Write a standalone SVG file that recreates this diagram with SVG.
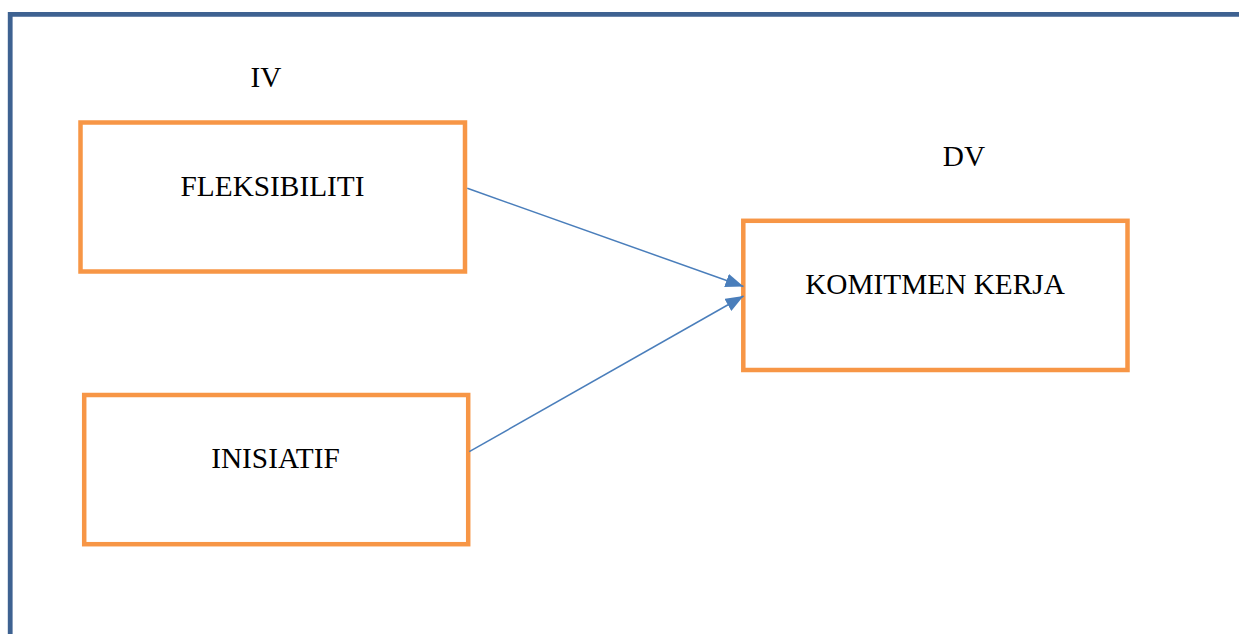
<svg xmlns="http://www.w3.org/2000/svg" width="1239" height="634" viewBox="0 0 1239 634">
<style>
.box{fill:#ffffff;stroke:#f79646;stroke-width:4.5}
.lbl{font-family:"Liberation Serif","Times New Roman",serif;font-size:29.3px;fill:#000000;text-anchor:middle}
.conn{stroke:#4a7ebb;stroke-width:1.5;fill:none}
</style>
<defs>
<marker id="arr" markerUnits="userSpaceOnUse" markerWidth="18" markerHeight="14" refX="18" refY="7" orient="auto">
<path d="M0,0 L18,7 L0,14 Z" fill="#4a7ebb"/>
</marker>
</defs>
<rect x="0" y="0" width="1239" height="634" fill="#ffffff"/>
<g id="frame">
<path d="M10.2,634 L10.2,14.3 L1239,14.3" fill="none" stroke="#3e6291" stroke-width="4.8"/>
</g>
<text class="lbl" x="266" y="86.5">IV</text>
<text class="lbl" x="964" y="166">DV</text>
<g id="fleksibiliti">
<rect class="box" x="80.5" y="122.5" width="384.5" height="149"/>
<text class="lbl" x="272.5" y="196">FLEKSIBILITI</text>
</g>
<g id="inisiatif">
<rect class="box" x="84.2" y="395" width="384" height="149.2"/>
<text class="lbl" x="275.5" y="468.3">INISIATIF</text>
</g>
<g id="komitmen">
<rect class="box" x="743.3" y="220.8" width="384.2" height="149.2"/>
<text class="lbl" x="935" y="294.3">KOMITMEN KERJA</text>
</g>
<g id="connectors">
<line class="conn" x1="467.3" y1="188.3" x2="743.5" y2="286.5" marker-end="url(#arr)"/>
<line class="conn" x1="469.3" y1="451.7" x2="743.5" y2="296" marker-end="url(#arr)"/>
</g>
</svg>
